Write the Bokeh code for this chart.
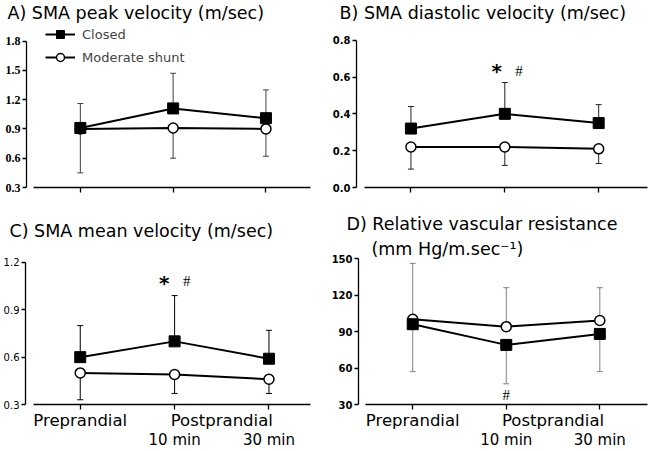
import numpy as np
from bokeh.plotting import figure
from bokeh.models import (ColumnDataSource, Whisker, TeeHead, FixedTicker, Legend, LegendItem,
                          Title, LinearAxis, Range1d, NumeralTickFormatter)
from bokeh.layouts import column, row
from bokeh.embed import file_html
from bokeh.resources import INLINE
from bokeh.core.properties import value

# ---------------- data ----------------
x_pos = [0, 1, 2]
group_labels = {0: "Preprandial", 1.5: "Postprandial"}
time_labels = {1: "10 min", 2: "30 min"}
series_names = ["Closed", "Moderate shunt"]

a_closed = [0.91, 1.11, 1.01]
a_closed_hi = [1.16, 1.47, 1.30]
a_shunt = [0.90, 0.91, 0.90]
a_shunt_lo = [0.45, 0.60, 0.62]
a_ticks = [0.3, 0.6, 0.9, 1.2, 1.5, 1.8]

b_closed = [0.32, 0.40, 0.35]
b_closed_hi = [0.44, 0.57, 0.45]
b_shunt = [0.22, 0.22, 0.21]
b_shunt_lo = [0.10, 0.12, 0.13]
b_ticks = [0.0, 0.2, 0.4, 0.6, 0.8]

c_closed = [0.60, 0.70, 0.59]
c_closed_hi = [0.80, 0.99, 0.77]
c_shunt = [0.50, 0.49, 0.46]
c_shunt_lo = [0.33, 0.37, 0.37]
c_ticks = [0.3, 0.6, 0.9, 1.2]

d_closed = [96, 79, 88]
d_closed_lo = [57, 47, 57]
d_shunt = [100, 94, 99]
d_shunt_hi = [146, 126, 126]
d_ticks = [30, 60, 90, 120, 150]

b_star = {"x": [0.915], "y": [0.633]}
b_hash = {"x": [1.15], "y": [0.633]}
c_star = {"x": [0.89], "y": [1.07]}
c_hash = {"x": [1.13], "y": [1.08]}
d_hash = {"x": [1.0], "y": [38]}

SANS = "DejaVu Sans"
SERIF = "Liberation Serif"


def make_panel(width, height, yr, ticks, fmt, xr_end, borders, tick_font, tick_bold, tick_size):
    p = figure(width=width, height=height, x_range=Range1d(-0.58, xr_end), y_range=Range1d(*yr),
               output_backend="svg", toolbar_location=None, title=None,
               min_border_left=borders[0], min_border_right=borders[1],
               min_border_top=borders[2], min_border_bottom=borders[3])
    p.outline_line_color = None
    p.grid.visible = False
    ya = p.yaxis[0]
    ya.ticker = FixedTicker(ticks=ticks, minor_ticks=[])
    ya.bounds = (ticks[0], ticks[-1])
    ya.formatter = NumeralTickFormatter(format=fmt)
    ya.axis_line_width = 1.3
    ya.major_tick_out = 4
    ya.major_tick_in = 0
    ya.major_tick_line_width = 1.3
    ya.major_label_standoff = 2
    ya.major_label_text_font = tick_font
    ya.major_label_text_font_style = "bold" if tick_bold else "normal"
    ya.major_label_text_font_size = tick_size
    ya.major_label_text_color = "black"
    xa = p.xaxis[0]
    xa.bounds = (-0.5, xr_end)
    xa.axis_line_width = 1.3
    xa.major_tick_line_color = None
    xa.major_tick_out = 0
    xa.major_tick_in = 0
    xa.minor_tick_out = 5
    xa.minor_tick_in = 0
    xa.minor_tick_line_width = 1.3
    xa.minor_tick_line_color = "black"
    return p


def add_titles(p, lines, offsets, standoffs, size="17.5px"):
    # first added is closest to the frame
    for txt, off, so in reversed(list(zip(lines, offsets, standoffs))):
        p.add_layout(Title(text=txt, align="left", offset=off, standoff=so,
                           text_font=SANS, text_font_size=size, text_font_style="normal",
                           text_color="black"), "above")


def whisker(src, lower, upper, up, color):
    head = TeeHead(size=6, line_color=color, line_width=1)
    if up:
        return Whisker(source=src, base="x", lower=lower, upper=upper, line_color=color, line_width=1,
                       upper_head=head, lower_head=None, level="underlay")
    return Whisker(source=src, base="x", lower=lower, upper=upper, line_color=color, line_width=1,
                   lower_head=head, upper_head=None, level="underlay")


def add_series(p, closed, closed_err, shunt, shunt_err, closed_err_up, err_color):
    src_c = ColumnDataSource(dict(x=x_pos, y=closed, e=closed_err))
    src_s = ColumnDataSource(dict(x=x_pos, y=shunt, e=shunt_err))
    if closed_err_up:
        p.add_layout(whisker(src_c, "y", "e", True, err_color))
        p.add_layout(whisker(src_s, "e", "y", False, err_color))
    else:
        p.add_layout(whisker(src_c, "e", "y", False, err_color))
        p.add_layout(whisker(src_s, "y", "e", True, err_color))
    ls = p.line("x", "y", source=src_s, line_color="black", line_width=2)
    ms = p.scatter("x", "y", source=src_s, marker="circle", size=10, fill_color="white",
                   line_color="black", line_width=1.5)
    lc = p.line("x", "y", source=src_c, line_color="black", line_width=2)
    mc = p.scatter("x", "y", source=src_c, marker="square", size=11, fill_color="black",
                   line_color="black", line_width=1)
    return (lc, mc), (ls, ms)


def add_marks(p, star=None, hash_=None, star_size="20px"):
    if star is not None:
        p.text(x=star["x"], y=star["y"], text=["*"], text_font=value(SANS), text_font_size=star_size,
               text_font_style="bold", text_align="center", text_baseline="middle", text_color="black")
    if hash_ is not None:
        p.text(x=hash_["x"], y=hash_["y"], text=["#"], text_font=value(SERIF), text_font_size="15px",
               text_align="center", text_baseline="middle", text_color="black")


def add_xlabels(p):
    xa = p.xaxis[0]
    xa.ticker = FixedTicker(ticks=[0, 1.5], minor_ticks=x_pos)
    xa.major_label_overrides = group_labels
    xa.major_label_standoff = 1
    xa.major_label_text_font = SANS
    xa.major_label_text_font_size = "16.5px"
    xa.major_label_text_font_style = "normal"
    xa.major_label_text_color = "black"
    ax2 = LinearAxis(ticker=FixedTicker(ticks=[1, 2], minor_ticks=[]), major_label_overrides=time_labels,
                     axis_line_color=None, major_tick_line_color=None, major_tick_out=0, major_tick_in=0,
                     minor_tick_line_color=None, major_label_standoff=-2,
                     major_label_text_font=SANS, major_label_text_font_size="15px",
                     major_label_text_color="black")
    p.add_layout(ax2, "below")


def no_xlabels(p):
    xa = p.xaxis[0]
    xa.ticker = FixedTicker(ticks=[], minor_ticks=x_pos)
    xa.major_label_standoff = 0


TOP_H = 197
BOT_H = 254
W = 324

# ---------------- A ----------------
pa = make_panel(W, TOP_H, (0.3, 1.99), a_ticks, "0.0", 2.48, (26, 14, 0, 10), SERIF, True, "12px")
no_xlabels(pa)
add_titles(pa, ["A) SMA peak velocity (m/sec)"], [-19], [0])
(rc, rs) = add_series(pa, a_closed, a_closed_hi, a_shunt, a_shunt_lo, True, "#404040")
legend = Legend(items=[LegendItem(label=series_names[0], renderers=list(rc)),
                       LegendItem(label=series_names[1], renderers=list(rs))],
                location=(19, 120), padding=0, margin=0, spacing=3, glyph_width=30, glyph_height=20,
                label_height=20, label_standoff=7, label_text_font=SANS, label_text_font_size="13px",
                border_line_color=None, background_fill_alpha=0)
pa.add_layout(legend)

# ---------------- B ----------------
pb = make_panel(W, TOP_H, (0.0, 0.896), b_ticks, "0.0", 2.52, (32, 1, 0, 10), SANS, True, "10px")
no_xlabels(pb)
add_titles(pb, ["B) SMA diastolic velocity (m/sec)"], [-17], [0])
add_series(pb, b_closed, b_closed_hi, b_shunt, b_shunt_lo, True, "#222222")
add_marks(pb, b_star, b_hash)

# ---------------- C ----------------
pc = make_panel(W, BOT_H, (0.3, 1.225), c_ticks, "0.0", 2.44, (25, 14, 61, 40), SANS, False, "10px")
add_xlabels(pc)
add_titles(pc, ["C) SMA mean velocity (m/sec)"], [-16], [36])
add_series(pc, c_closed, c_closed_hi, c_shunt, c_shunt_lo, True, "black")
add_marks(pc, c_star, c_hash)

# ---------------- D ----------------
pd_ = make_panel(W, BOT_H, (30, 150), d_ticks, "0", 2.51, (34, 1, 61, 40), SANS, True, "10px")
add_xlabels(pd_)
add_titles(pd_, ["D) Relative vascular resistance", "(mm Hg/m.sec\u207b\u00b9)"], [-12, 13], [6, 0])
add_series(pd_, d_closed, d_closed_lo, d_shunt, d_shunt_hi, False, "#808080")
add_marks(pd_, None, d_hash)

layout = column(row(pa, pb), row(pc, pd_))
open("out.html", "w").write(file_html(layout, INLINE))
